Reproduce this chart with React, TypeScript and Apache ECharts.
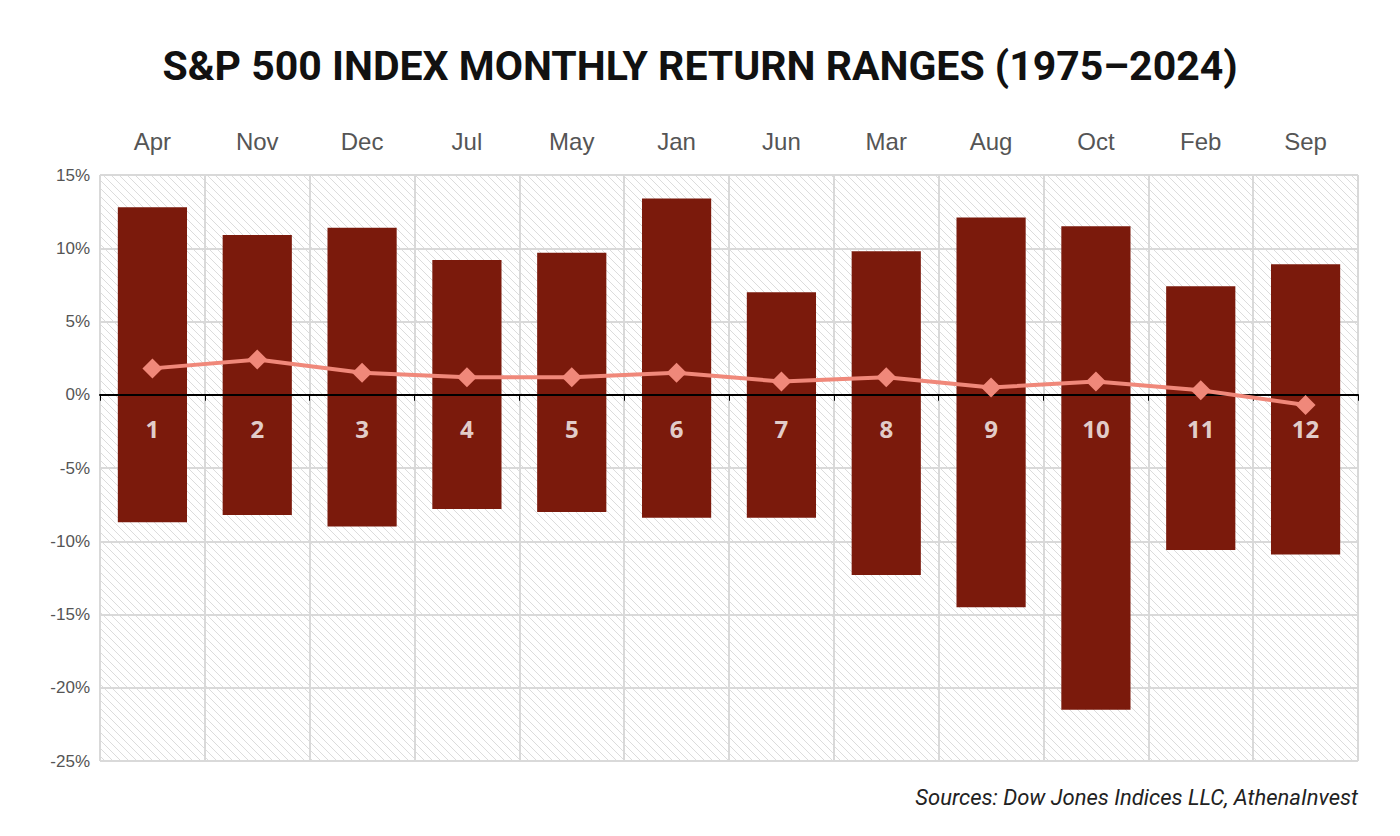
import { useEffect, useRef } from "react";
import * as echarts from "echarts";

const months = ["Apr", "Nov", "Dec", "Jul", "May", "Jan", "Jun", "Mar", "Aug", "Oct", "Feb", "Sep"];
const ranks = ["1", "2", "3", "4", "5", "6", "7", "8", "9", "10", "11", "12"];
const highs = [12.8, 10.9, 11.4, 9.2, 9.7, 13.4, 7.0, 9.8, 12.1, 11.5, 7.4, 8.9];
const lows = [-8.7, -8.2, -9.0, -7.8, -8.0, -8.4, -8.4, -12.3, -14.5, -21.5, -10.6, -10.9];
const averages = [1.8, 2.4, 1.5, 1.2, 1.2, 1.5, 0.9, 1.2, 0.5, 0.9, 0.3, -0.7];

function hatch() {
  const c = document.createElement("canvas");
  c.width = 8;
  c.height = 8;
  const g = c.getContext("2d")!;
  g.fillStyle = "#ffffff";
  g.fillRect(0, 0, 8, 8);
  g.strokeStyle = "#dcdcdc";
  g.lineWidth = 1;
  g.beginPath();
  g.moveTo(0, 0);
  g.lineTo(8, 8);
  g.moveTo(-4, 4);
  g.lineTo(4, 12);
  g.moveTo(4, -4);
  g.lineTo(12, 4);
  g.stroke();
  return c;
}

export default function App() {
  const ref = useRef<HTMLDivElement>(null);

  useEffect(() => {
    if (!ref.current) return;
    const chart = echarts.init(ref.current, undefined, { renderer: "svg" });
    const barColor = "#7b1a0c";
    chart.setOption({
      animation: false,
      backgroundColor: "#fff",
      title: {
        text: "S&P 500 INDEX MONTHLY RETURN RANGES (1975\u20132024)",
        left: "center",
        top: 32,
        textStyle: { fontFamily: "Roboto", fontWeight: "bold", fontSize: 41, color: "#111" },
      },
      graphic: [
        {
          type: "text",
          right: 34,
          top: 778,
          style: { text: "Sources: Dow Jones Indices LLC, AthenaInvest", font: "italic 22px Roboto", fill: "#222" },
        },
      ],
      grid: {
        left: 92,
        right: 34,
        top: 167,
        bottom: 67,
        show: true,
        borderWidth: 0,
        backgroundColor: { image: hatch(), repeat: "repeat" } as any,
      },
      xAxis: [
        {
          type: "category",
          data: ranks,
          axisLine: { onZero: true, lineStyle: { color: "#000", width: 2 } },
          axisTick: { show: true, length: 6, lineStyle: { color: "#000" } },
          axisLabel: { show: false },
          splitLine: { show: true, lineStyle: { color: "#d9d9d9", width: 2 } },
          z: 5,
        },
        {
          type: "category",
          data: months,
          position: "top",
          axisLine: { show: false },
          axisTick: { show: false },
          axisLabel: { color: "#555", fontSize: 24, fontFamily: "Liberation Sans", margin: 22 },
        },
      ],
      yAxis: {
        type: "value",
        min: -25,
        max: 15,
        interval: 5,
        axisLine: { show: false },
        axisTick: { show: false },
        axisLabel: { formatter: "{value}%", color: "#555", fontSize: 17, fontFamily: "Liberation Sans", margin: 10 },
        splitLine: { lineStyle: { color: "#d9d9d9", width: 2 } },
      },
      series: [
        { type: "bar", stack: "r", data: highs, barWidth: "66%", itemStyle: { color: barColor } },
        { type: "bar", stack: "r", data: lows, barWidth: "66%", itemStyle: { color: barColor } },
        {
          type: "line",
          data: averages,
          symbol: "diamond",
          symbolSize: 20,
          lineStyle: { color: "#f0887a", width: 4 },
          itemStyle: { color: "#f0887a" },
          z: 10,
        },
        {
          type: "scatter",
          data: ranks.map((r, i) => [i, 0]),
          symbolSize: 0,
          silent: true,
          z: 11,
          label: {
            show: true,
            position: "bottom",
            distance: 22,
            formatter: (p: any) => ranks[p.dataIndex],
            color: "#fff",
            fontSize: 24,
            fontWeight: "bold",
            fontFamily: "Open Sans",
          },
        },
      ],
    });
    return () => chart.dispose();
  }, []);

  return <div ref={ref} style={{ width: 1384, height: 820 }} />;
}
